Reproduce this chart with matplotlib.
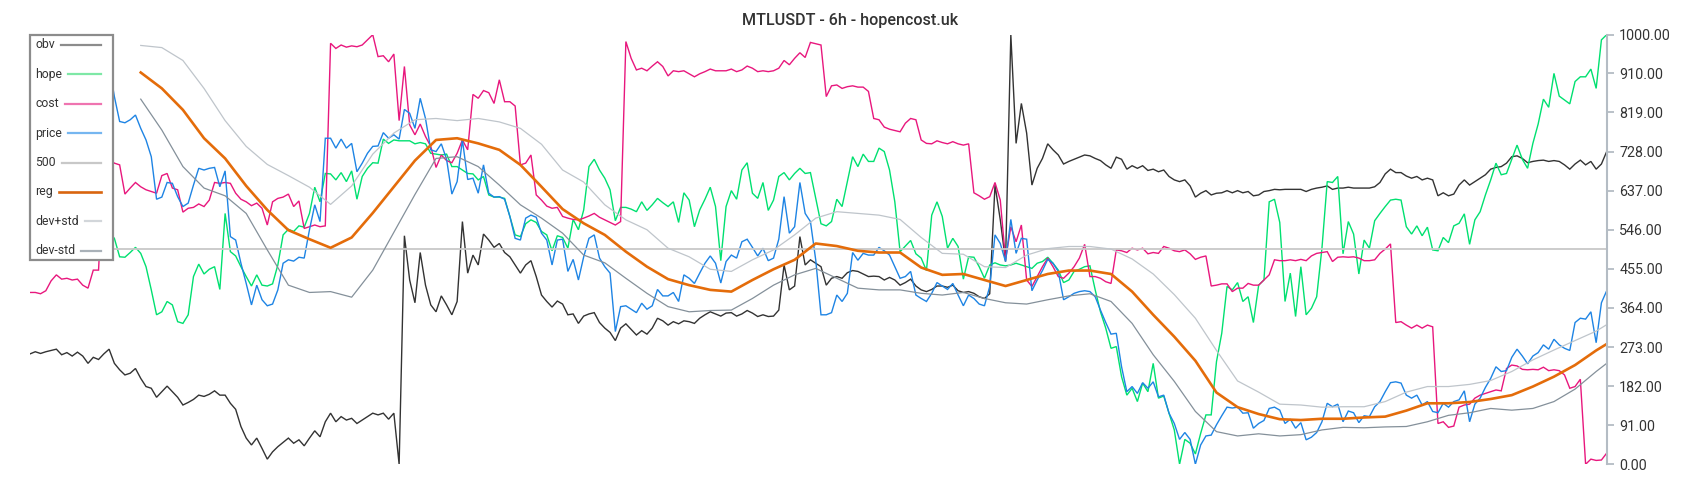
import numpy as np
import matplotlib
matplotlib.use("Agg")
import matplotlib.pyplot as plt
from matplotlib.patches import Rectangle
from matplotlib.lines import Line2D
from matplotlib.ticker import FormatStrFormatter

plt.rcParams['font.family'] = ['Roboto', 'DejaVu Sans']

title = "MTLUSDT - 6h - hopencost.uk"
tick_vals = [0, 91, 182, 273, 364, 455, 546, 637, 728, 819, 910, 1000]
level = 500

# normalised series, one value per 6h candle (300 candles)
obv = [257, 262, 258, 262, 265, 268, 255, 260, 252, 261, 252, 235, 249, 244, 257, 268, 235, 220, 208, 212,
       223, 200, 181, 177, 156, 169, 182, 169, 156, 138, 144, 151, 161, 158, 163, 171, 161, 161, 142, 128,
       88, 61, 45, 61, 37, 12, 29, 41, 51, 61, 49, 57,
       43, 61, 78, 64, 99, 119, 99, 111, 103, 107, 95, 103, 111, 119, 115, 119, 105, 119, 0, 532,
       429, 376, 493, 417, 371, 355, 392, 371, 348, 379, 565, 445, 487, 464, 536, 522, 505, 514, 493, 483,
       464, 445, 464, 474, 437, 394, 379, 366, 380,
       373, 348, 350, 328, 345, 350, 353, 330, 317, 307, 288, 317, 327, 314, 301, 311, 303, 317, 340, 334,
       324, 332, 327, 334, 332, 328, 340, 348, 355, 350, 345, 352, 353, 345, 350, 358, 352, 344, 348, 344,
       345, 359, 464, 406, 415, 530, 464, 476, 468, 460, 417, 433, 437, 433, 446, 451, 449,
       443, 437, 438, 437, 429, 435, 429, 417, 423, 431, 415, 406, 402, 407, 415, 415, 412, 417, 404, 400,
       402, 398, 390, 386, 397, 650, 569, 472, 1000, 747, 840, 771, 650, 689, 712, 746, 732, 720, 699, 705,
       710, 715, 720, 718, 712, 707, 697, 689,
       715, 710, 687, 695, 689, 695, 684, 687, 681, 685, 670, 662, 658, 662, 648, 622, 631, 637, 627, 631,
       632, 637, 632, 637, 632, 635, 625, 627, 635, 637, 640, 639, 640, 640, 640, 640, 635, 640, 643, 645,
       648, 640, 643, 643, 645, 643, 643, 643, 643, 646, 656, 676, 687, 679,
       679, 671, 666, 670, 662, 666, 662, 625, 632, 625, 629, 650, 662, 650, 658, 666, 674, 687, 691, 693,
       701, 716, 718, 712, 702, 705, 707, 708, 705, 707, 705, 697, 687, 699, 708, 697, 705, 687, 699, 728]

hope = [545, 550, 540, 548, 555, 545, 538, 550, 545, 552, 540, 535, 548, 542, 538, 540, 526, 483, 482, 493,
        505, 491, 460, 406, 348, 355, 379, 371, 332, 328, 348, 437, 466, 443, 454, 460, 407, 584, 495, 485,
        460, 437, 415, 441, 417, 415, 420, 464, 534, 547, 542, 555,
        552, 584, 645, 611, 677, 676, 662, 679, 658, 683, 617, 670, 689, 702, 701, 757, 747, 755, 753, 753,
        753, 746, 749, 746, 724, 722, 720, 722, 693, 693, 685, 677, 676, 662, 670, 627, 622, 622, 619, 577,
        534, 530, 560, 569, 563, 542, 534, 497, 532,
        528, 503, 570, 546, 592, 693, 710, 685, 666, 639, 567, 598, 598, 594, 588, 611, 591, 604, 619, 609,
        600, 611, 563, 632, 615, 553, 592, 617, 645, 600, 474, 600, 637, 617, 685, 702, 631, 619, 656, 591,
        615, 670, 679, 662, 677, 689, 677, 679, 619, 560, 555, 565, 617, 600, 658, 716, 693,
        722, 705, 705, 736, 728, 685, 611, 495, 508, 521, 490, 480, 451, 580, 611, 577, 503, 526, 507, 431,
        483, 482, 460, 433, 464, 469, 464, 462, 464, 468, 464, 460, 456, 468, 472, 482, 468, 452, 423, 429,
        449, 454, 460, 462, 406, 355, 317, 270,
        274, 204, 161, 177, 146, 189, 169, 235, 154, 159, 119, 80, 0, 58, 49, 24, 72, 115, 115, 239,
        305, 414, 406, 423, 379, 390, 330, 417, 429, 611, 617, 563, 379, 445, 344, 460, 348, 363, 390, 503,
        658, 656, 670, 490, 565, 536, 443, 522, 503, 567, 584, 600, 615, 617,
        615, 553, 536, 555, 532, 552, 499, 497, 528, 516, 555, 561, 583, 512, 569, 588, 627, 662, 701, 674,
        677, 710, 743, 710, 689, 747, 792, 850, 831, 910, 857, 848, 839, 891, 902, 902, 920, 875, 988, 1000]

cost = [400, 400, 397, 404, 427, 441, 431, 433, 429, 431, 417, 410, 452, 452, 700, 710, 701, 697, 629, 643,
        656, 646, 639, 635, 631, 672, 677, 643, 639, 587, 596, 598, 606, 600, 615, 656, 654, 656, 654, 631,
        617, 611, 602, 608, 596, 557, 611, 619, 622, 629, 600, 613,
        549, 553, 557, 553, 555, 980, 968, 976, 971, 974, 972, 976, 988, 1000, 949, 951, 937, 955, 800, 926,
        790, 767, 792, 763, 740, 691, 720, 707, 702, 724, 755, 732, 861, 852, 870, 865, 840, 895, 844, 844,
        834, 697, 701, 720, 627, 615, 601, 596, 598,
        577, 573, 570, 569, 573, 578, 584, 575, 569, 563, 557, 565, 984, 945, 918, 922, 916, 927, 937, 926,
        904, 916, 914, 916, 909, 902, 909, 914, 920, 916, 916, 916, 920, 914, 918, 927, 922, 914, 916, 914,
        916, 922, 940, 930, 945, 958, 947, 982, 979, 976, 856, 881, 883, 875, 879, 881, 878,
        878, 868, 805, 802, 785, 780, 777, 774, 794, 805, 802, 755, 747, 746, 753, 749, 746, 751, 746, 743,
        746, 632, 625, 617, 623, 656, 615, 476, 553, 518, 557, 429, 414, 437, 460, 480, 460, 437, 433, 445,
        460, 480, 512, 437, 437, 433, 425, 421,
        499, 497, 493, 503, 499, 503, 490, 493, 491, 507, 503, 497, 495, 499, 490, 477, 482, 485, 415, 417,
        420, 420, 402, 410, 410, 421, 417, 417, 429, 441, 476, 474, 474, 476, 474, 477, 474, 485, 491, 493,
        495, 472, 482, 483, 482, 483, 480, 474, 474, 476, 491, 501, 513, 330,
        332, 324, 317, 324, 317, 324, 320, 95, 99, 86, 89, 133, 138, 140, 154, 161, 165, 169, 173, 171,
        223, 231, 229, 221, 220, 221, 220, 226, 218, 220, 218, 208, 177, 181, 198, 0, 12, 9, 10, 26]

price = [945, 950, 942, 955, 948, 960, 952, 945, 950, 940, 935, 942, 930, 925, 935, 930, 856, 798, 795, 802,
         813, 782, 755, 716, 617, 622, 656, 654, 623, 600, 608, 650, 689, 685, 689, 691, 646, 683, 530, 522,
         468, 421, 371, 417, 383, 369, 373, 406, 468, 476, 473, 482,
         480, 546, 604, 565, 759, 759, 736, 757, 736, 747, 681, 701, 724, 740, 741, 772, 759, 767, 757, 826,
         817, 782, 852, 805, 732, 728, 746, 710, 629, 658, 755, 663, 666, 631, 697, 631, 622, 623, 617, 577,
         526, 522, 573, 580, 575, 538, 522, 464, 522,
         524, 449, 477, 429, 483, 526, 534, 480, 460, 445, 309, 367, 369, 361, 353, 375, 361, 369, 407, 392,
         392, 400, 379, 441, 433, 421, 445, 468, 485, 468, 422, 472, 487, 480, 518, 524, 505, 485, 503, 474,
         480, 524, 623, 538, 553, 656, 584, 565, 476, 348, 348, 353, 394, 379, 398, 493, 475,
         491, 487, 487, 505, 497, 487, 460, 433, 437, 449, 394, 386, 379, 398, 423, 415, 407, 421, 394, 369,
         394, 386, 373, 369, 414, 534, 514, 472, 570, 491, 526, 524, 404, 429, 451, 477, 468, 449, 383, 390,
         398, 402, 404, 402, 390, 359, 330, 303,
         305, 227, 169, 181, 165, 190, 177, 192, 157, 161, 119, 95, 58, 74, 58, 0, 45, 66, 68, 92,
         113, 133, 131, 133, 119, 120, 84, 95, 102, 130, 133, 126, 95, 105, 84, 97, 57, 63, 74, 99,
         142, 134, 140, 99, 124, 120, 97, 113, 111, 134, 146, 169, 190, 192,
         189, 161, 154, 161, 138, 146, 123, 120, 142, 133, 146, 150, 171, 99, 140, 154, 179, 200, 227, 216,
         218, 249, 268, 252, 234, 252, 260, 278, 268, 291, 278, 270, 265, 330, 340, 338, 355, 283, 376, 404]

# smooth regression band, read every 4th candle from candle 21 on
band_idx = list(range(21, 298, 4)) + [299]
reg = [912, 875, 825, 759, 712, 648, 592, 545,
       524, 504, 528, 585, 646, 707, 755, 759, 747, 732, 697, 646,
       594, 561, 534, 495, 460, 431, 417, 406, 402, 429, 454, 476, 514,
       508, 497, 493, 493, 458, 441, 443, 429, 415, 429, 443, 451,
       451, 443, 402, 348, 297, 241, 167, 133, 117, 105, 103, 106, 106,
       109, 111, 125, 142, 142, 145, 152, 161, 181, 204, 231, 265,
       280]
dev_hi = [975, 970, 940, 875, 800, 740, 698, 672,
          645, 605, 648, 722, 771, 802, 805, 800, 805, 797, 782, 745,
          685, 657, 604, 569, 546, 503, 483, 454, 449, 476, 499, 534, 573,
          588, 584, 580, 570, 528, 491, 489, 460, 458, 487, 502, 507,
          507, 501, 478, 443, 395, 340, 265, 194, 168, 140, 138, 133, 134,
          134, 146, 168, 181, 181, 186, 195, 216, 243, 266, 288, 310,
          325]
dev_lo = [850, 778, 693, 643, 625, 584, 499, 417,
          400, 402, 389, 452, 540, 628, 712, 716, 693, 650, 604, 573,
          538, 487, 469, 433, 398, 367, 355, 358, 359, 386, 417, 441, 456,
          433, 410, 406, 406, 398, 394, 400, 386, 376, 373, 383, 392,
          397, 379, 328, 255, 193, 123, 76, 66, 71, 66, 69, 80, 86,
          85, 87, 88, 99, 114, 120, 130, 126, 130, 146, 175, 216,
          235]

W, H = 1700, 500
fig = plt.figure(figsize=(W / 100, H / 100), dpi=100)
ax = fig.add_axes([30 / W, 1 - 464.3 / H, (1606.7 - 30) / W, (464.3 - 34.7) / H])

series = [
    ("obv", obv, '#333333', 1.0, '#8c8c8c'),
    ("hope", hope, '#00e070', 1.0, '#7ee8a6'),
    ("cost", cost, '#e8177d', 1.0, '#ef74b0'),
    ("price", price, '#1e84e4', 1.0, '#76b6f0'),
]
for name, vals, col, lw, _ in series:
    ax.plot(np.arange(len(vals)), vals, color=col, lw=lw, solid_joinstyle='miter')

ax.axhline(level, color='#c8c8c8', lw=1.3)
ax.plot(band_idx, reg, color='#e46c0a', lw=1.9)
ax.plot(band_idx, dev_hi, color='#bfc5cb', lw=0.9)
ax.plot(band_idx, dev_lo, color='#84909a', lw=0.9)

ax.set_xlim(0, 299)
ax.set_ylim(0, 1000)
ax.set_xticks([])
ax.yaxis.tick_right()
ax.set_yticks(tick_vals)
ax.yaxis.set_major_formatter(FormatStrFormatter('%.2f'))
ax.tick_params(axis='y', direction='out', length=5, width=1.3, color='#b4bcc4',
               labelsize=10.3, labelcolor='#333333', pad=4)
for s in ['top', 'left', 'bottom']:
    ax.spines[s].set_visible(False)
ax.spines['right'].set_color('#b4bcc4')
ax.spines['right'].set_linewidth(1.5)

fig.text(0.5, 1 - 20.5 / H, title, ha='center', va='center', fontsize=11.6,
         color='#333333', fontweight='medium')

# hand-made legend box (label left, line filling to the right edge)
def fx(px):
    return px / W

def fy(py):
    return 1 - py / H

box = Rectangle((fx(29.7), fy(260)), fx(113.3) - fx(29.7), (260 - 35) / H,
                transform=fig.transFigure, facecolor='white', edgecolor='#8c8c8c',
                lw=1.6, zorder=10)
fig.add_artist(box)

legend_rows = [(n, lc, 1.6) for n, _, _, _, lc in series] + [
    ("500", '#c8c8c8', 1.6), ("reg", '#d9650f', 1.9),
    ("dev+std", '#d2d6da', 1.6), ("dev-std", '#a9b1b8', 1.6)]
renderer = fig.canvas.get_renderer()
for k, (name, lc, lw) in enumerate(legend_rows):
    py = 45 + 29.4 * k
    t = fig.text(fx(35), fy(py), name, ha='left', va='center', fontsize=8.8,
                 color='#333333', zorder=11)
    bb = t.get_window_extent(renderer)
    fig.add_artist(Line2D([fx(bb.x1 + 6), fx(101)], [fy(py), fy(py)],
                          transform=fig.transFigure, color=lc, lw=lw, zorder=11))

fig.savefig("out.png", dpi=100)
